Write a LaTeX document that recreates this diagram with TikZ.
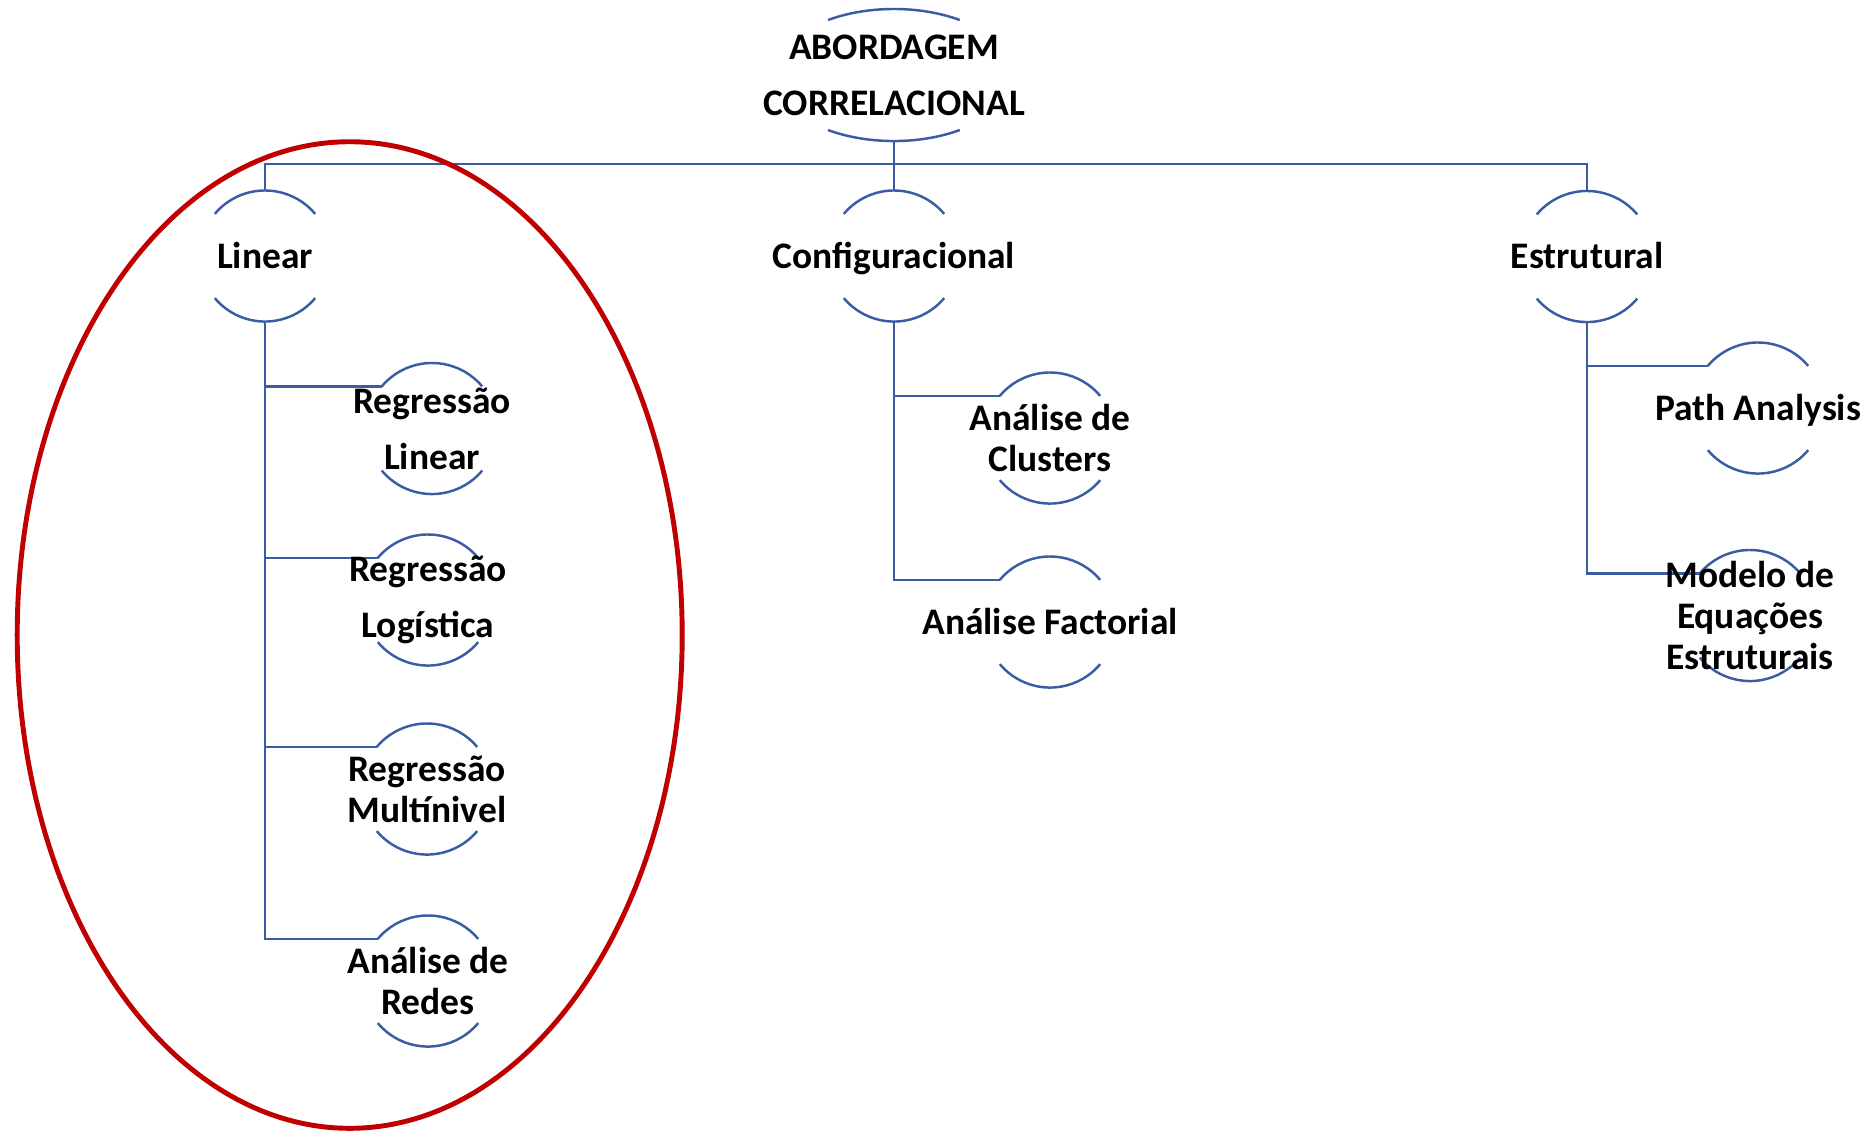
\documentclass[tikz,border=0pt]{standalone}
\usepackage{fontspec}
\setmainfont{Carlito}
\usetikzlibrary{shapes.geometric}
\definecolor{lineblue}{RGB}{58,92,165}
\definecolor{ovalred}{RGB}{192,0,0}
\begin{document}
\begin{tikzpicture}[x=0.01cm, y=-0.01cm,
  ring/.style={circle, minimum size=1.31cm, inner sep=0pt, outer sep=0pt, draw=none},
  lbl/.style={inner sep=0pt, align=center, font=\bfseries\fontsize{10.65}{11.7}\selectfont},
  lblone/.style={inner sep=0pt, align=center, text height=6.86pt, text depth=0pt, font=\bfseries\fontsize{10.65}{11.7}\selectfont},
  lblwide/.style={inner sep=0pt, align=center, font=\bfseries\fontsize{10.65}{15.9}\selectfont},
  conn/.style={draw=lineblue, line width=0.7pt},
  arcline/.style={draw=lineblue, line width=0.7pt},
  oval/.style={ellipse, draw=ovalred, line width=1.4pt, inner sep=0pt, outer sep=0pt}
]
\useasboundingbox (0,0) rectangle (1870,1132);

% shape nodes
\node[ellipse, minimum width=2.38cm, minimum height=1.32cm, inner sep=0pt, outer sep=0pt] (root) at (894,75) {};
\node[ring] (lin)   at (265,256) {};
\node[ring] (conf)  at (894,256) {};
\node[ring] (est)   at (1587,256.5) {};
\node[ring] (rl)    at (432,428.5) {};
\node[ring] (rlog)  at (428,600) {};
\node[ring] (mult)  at (427,789) {};
\node[ring] (redes) at (428,981) {};
\node[ring] (clus)  at (1050,438) {};
\node[ring] (fact)  at (1050,622) {};
\node[ring] (pa)    at (1758,408) {};
\node[ring] (sem)   at (1750,615.5) {};

% arcs of the root
\draw[arcline] ([shift={(-66,-55)}]root.center) arc[start angle=123.6, end angle=56.4, x radius=1.19cm, y radius=0.66cm];
\draw[arcline] ([shift={(-66,55)}]root.center) arc[start angle=236.4, end angle=303.6, x radius=1.19cm, y radius=0.66cm];

% arcs of the rings
\foreach \n in {lin,conf,est,rl,rlog,mult,redes,clus,fact,pa,sem} {
  \draw[arcline] (\n.140) arc[start angle=140, end angle=40, radius=0.655cm];
  \draw[arcline] (\n.220) arc[start angle=220, end angle=320, radius=0.655cm];
}

% connectors
\coordinate (bar) at (894,164);
\draw[conn] (root.south) -- (conf.north);
\draw[conn] (lin.north) |- (bar) -| (est.north);
\foreach \c in {rl,rlog,mult,redes} \draw[conn] (lin.south) |- (\c.140);
\foreach \c in {clus,fact} \draw[conn] (conf.south) |- (\c.140);
\foreach \c in {pa,sem} \draw[conn] (est.south) |- (\c.140);

% texts
\node[lblwide] (root-t) at (root) {ABORDAGEM\\CORRELACIONAL};
\node[lblone] (lin-t) at (lin) {Linear};
\node[lblone] (conf-t) at (conf) {Configuracional};
\node[lblone] (est-t) at (est) {Estrutural};
\node[lblwide] (rl-t) at (rl) {Regressão\\Linear};
\node[lblwide] (rlog-t) at (rlog) {Regressão\\Logística};
\node[lbl] (mult-t) at (mult) {Regressão\\Multínivel};
\node[lbl] (redes-t) at (redes) {Análise de\\Redes};
\node[lbl] (clus-t) at (clus) {Análise de\\Clusters};
\node[lblone] (fact-t) at (fact) {Análise Factorial};
\node[lblone] (pa-t) at (pa) {Path Analysis};
\node[lbl] (sem-t) at (sem) {Modelo de\\Equações\\Estruturais};

% red highlight
\node[oval, minimum width=6.646cm, minimum height=9.86cm] (hl) at (349.7,635) {};
\end{tikzpicture}
\end{document}
